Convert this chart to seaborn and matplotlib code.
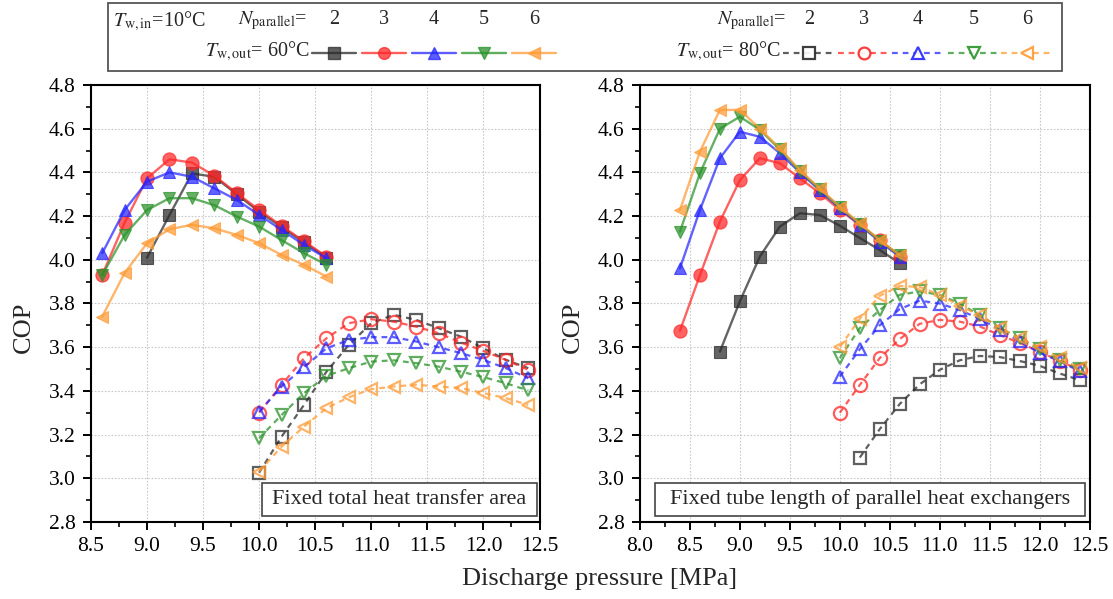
import numpy as np
import pandas as pd
import matplotlib
matplotlib.use("Agg")
import matplotlib.pyplot as plt
import seaborn as sns
from matplotlib.ticker import MultipleLocator, FormatStrFormatter
from matplotlib.patches import Rectangle
from matplotlib.lines import Line2D

# ---------------- data ----------------
N_PARALLEL = [2, 3, 4, 5, 6]

# Left panel: fixed total heat transfer area
left60_x = {
    2: [9.0, 9.2, 9.4, 9.6, 9.8, 10.0, 10.2, 10.4, 10.6],
    3: [8.6, 8.8, 9.0, 9.2, 9.4, 9.6, 9.8, 10.0, 10.2, 10.4, 10.6],
    4: [8.6, 8.8, 9.0, 9.2, 9.4, 9.6, 9.8, 10.0, 10.2, 10.4, 10.6],
    5: [8.6, 8.8, 9.0, 9.2, 9.4, 9.6, 9.8, 10.0, 10.2, 10.4, 10.6],
    6: [8.6, 8.8, 9.0, 9.2, 9.4, 9.6, 9.8, 10.0, 10.2, 10.4, 10.6],
}
left60_y = {
    2: [4.01, 4.205, 4.395, 4.38, 4.30, 4.22, 4.15, 4.08, 4.01],
    3: [3.93, 4.17, 4.373, 4.46, 4.445, 4.385, 4.305, 4.228, 4.155, 4.085, 4.015],
    4: [4.03, 4.228, 4.358, 4.40, 4.38, 4.327, 4.274, 4.205, 4.137, 4.068, 4.007],
    5: [3.93, 4.114, 4.228, 4.282, 4.282, 4.25, 4.198, 4.152, 4.09, 4.03, 3.977],
    6: [3.74, 3.94, 4.076, 4.14, 4.16, 4.144, 4.114, 4.076, 4.022, 3.977, 3.923],
}
left80_x = [10.0, 10.2, 10.4, 10.6, 10.8, 11.0, 11.2, 11.4, 11.6, 11.8, 12.0, 12.2, 12.4]
left80_y = {
    2: [3.026, 3.191, 3.336, 3.488, 3.611, 3.71, 3.748, 3.725, 3.687, 3.648, 3.595, 3.542, 3.504],
    3: [3.30, 3.428, 3.55, 3.641, 3.71, 3.728, 3.717, 3.694, 3.664, 3.621, 3.583, 3.542, 3.496],
    4: [3.305, 3.42, 3.509, 3.595, 3.633, 3.646, 3.646, 3.626, 3.60, 3.573, 3.542, 3.504, 3.458],
    5: [3.184, 3.29, 3.39, 3.469, 3.504, 3.534, 3.54, 3.527, 3.511, 3.488, 3.463, 3.435, 3.402],
    6: [3.031, 3.145, 3.237, 3.321, 3.371, 3.408, 3.42, 3.428, 3.42, 3.413, 3.39, 3.367, 3.336],
}

# Right panel: fixed tube length of parallel heat exchangers
right60_x = {
    2: [8.8, 9.0, 9.2, 9.4, 9.6, 9.8, 10.0, 10.2, 10.4, 10.6],
    3: [8.4, 8.6, 8.8, 9.0, 9.2, 9.4, 9.6, 9.8, 10.0, 10.2, 10.4, 10.6],
    4: [8.4, 8.6, 8.8, 9.0, 9.2, 9.4, 9.6, 9.8, 10.0, 10.2, 10.4, 10.6],
    5: [8.4, 8.6, 8.8, 9.0, 9.2, 9.4, 9.6, 9.8, 10.0, 10.2, 10.4, 10.6],
    6: [8.4, 8.6, 8.8, 9.0, 9.2, 9.4, 9.6, 9.8, 10.0, 10.2, 10.4, 10.6],
}
right60_y = {
    2: [3.58, 3.81, 4.015, 4.152, 4.213, 4.205, 4.156, 4.10, 4.045, 3.984],
    3: [3.675, 3.93, 4.175, 4.365, 4.465, 4.442, 4.373, 4.305, 4.228, 4.16, 4.09, 4.015],
    4: [3.961, 4.228, 4.465, 4.586, 4.563, 4.488, 4.40, 4.318, 4.236, 4.16, 4.083, 4.015],
    5: [4.129, 4.396, 4.60, 4.655, 4.595, 4.505, 4.405, 4.322, 4.24, 4.164, 4.087, 4.02],
    6: [4.228, 4.495, 4.686, 4.686, 4.60, 4.51, 4.41, 4.327, 4.243, 4.167, 4.09, 4.022],
}
right80_x = {
    2: [10.2, 10.4, 10.6, 10.8, 11.0, 11.2, 11.4, 11.6, 11.8, 12.0, 12.2, 12.4],
    3: [10.0, 10.2, 10.4, 10.6, 10.8, 11.0, 11.2, 11.4, 11.6, 11.8, 12.0, 12.2, 12.4],
    4: [10.0, 10.2, 10.4, 10.6, 10.8, 11.0, 11.2, 11.4, 11.6, 11.8, 12.0, 12.2, 12.4],
    5: [10.0, 10.2, 10.4, 10.6, 10.8, 11.0, 11.2, 11.4, 11.6, 11.8, 12.0, 12.2, 12.4],
    6: [10.0, 10.2, 10.4, 10.6, 10.8, 11.0, 11.2, 11.4, 11.6, 11.8, 12.0, 12.2, 12.4],
}
right80_y = {
    2: [3.095, 3.225, 3.34, 3.43, 3.496, 3.54, 3.56, 3.555, 3.537, 3.515, 3.48, 3.45],
    3: [3.30, 3.427, 3.55, 3.637, 3.707, 3.725, 3.717, 3.695, 3.656, 3.62, 3.58, 3.537, 3.496],
    4: [3.465, 3.59, 3.70, 3.774, 3.813, 3.80, 3.77, 3.73, 3.68, 3.627, 3.574, 3.537, 3.49],
    5: [3.55, 3.687, 3.77, 3.84, 3.855, 3.84, 3.80, 3.747, 3.69, 3.64, 3.59, 3.54, 3.50],
    6: [3.60, 3.73, 3.835, 3.88, 3.876, 3.84, 3.79, 3.747, 3.69, 3.64, 3.60, 3.55, 3.505],
}

COLORS = {2: "#2a2a2a", 3: "#ff2626", 4: "#2626ff", 5: "#2a922a", 6: "#ff9a33"}
MARKERS = {2: "s", 3: "o", 4: "^", 5: "v", 6: "<"}

panel_titles = ["Fixed total heat transfer area",
                "Fixed tube length of parallel heat exchangers"]

# ---------------- style ----------------
sns.set_theme(style="ticks")
plt.rcParams["font.family"] = ["Liberation Serif", "DejaVu Serif"]
plt.rcParams["mathtext.fontset"] = "stix"

W, H = 1113, 599
fig = plt.figure(figsize=(W / 100, H / 100), dpi=100)

def px_axes(x0, y0, x1, y1):
    return fig.add_axes([x0 / W, 1 - y1 / H, (x1 - x0) / W, (y1 - y0) / H])

axL = px_axes(91, 85, 539.5, 522)
axR = px_axes(640, 85, 1089.5, 522)


def draw_filled(ax, x, y, n):
    c = COLORS[n]
    sns.lineplot(x=x, y=y, ax=ax, color=c, lw=1.7, alpha=0.72,
                 marker=MARKERS[n], ms=8.5 if n != 3 else 9.5,
                 markerfacecolor=c, markeredgecolor=c, markeredgewidth=0.8,
                 estimator=None, sort=False, zorder=4)


def draw_open(ax, x, y, n):
    c = COLORS[n]
    sns.lineplot(x=x, y=y, ax=ax, color=c, lw=1.6, alpha=0.75,
                 linestyle=(0, (2.6, 2.2)),
                 marker=MARKERS[n], ms=9 if n != 3 else 9.5,
                 markerfacecolor="none", markeredgecolor=c, markeredgewidth=1.6,
                 estimator=None, sort=False, zorder=3)


for n in N_PARALLEL:
    draw_open(axL, left80_x, left80_y[n], n)
for n in N_PARALLEL:
    draw_filled(axL, left60_x[n], left60_y[n], n)
for n in N_PARALLEL:
    draw_open(axR, right80_x[n], right80_y[n], n)
for n in N_PARALLEL:
    draw_filled(axR, right60_x[n], right60_y[n], n)

for ax, (xmin, xmax) in [(axL, (8.5, 12.5)), (axR, (8.0, 12.5))]:
    ax.set_xlim(xmin, xmax)
    ax.set_ylim(2.8, 4.8)
    ax.xaxis.set_major_locator(MultipleLocator(0.5))
    ax.xaxis.set_minor_locator(MultipleLocator(0.25))
    ax.yaxis.set_major_locator(MultipleLocator(0.2))
    ax.yaxis.set_minor_locator(MultipleLocator(0.1))
    ax.xaxis.set_major_formatter(FormatStrFormatter("%.1f"))
    ax.yaxis.set_major_formatter(FormatStrFormatter("%.1f"))
    ax.grid(True, which="major", color="#c8c8c8", linestyle=(0, (1.5, 1.5)), lw=0.8)
    ax.set_axisbelow(True)
    for s in ax.spines.values():
        s.set_visible(True)
        s.set_linewidth(1.5)
        s.set_color("black")
    ax.tick_params(which="major", direction="out", length=6, width=1.4,
                   labelsize=15.5, pad=5, colors="black")
    ax.tick_params(which="minor", direction="out", length=3.5, width=1.2,
                   colors="black")
    ax.tick_params(top=False, right=False, which="both")
    ax.set_xlabel("")
    ax.set_ylabel("COP", fontsize=19, labelpad=6)
    ax.yaxis.set_label_coords(-0.125, 0.445)

# annotation boxes
for ax, title, (bx0, bx1) in [(axL, panel_titles[0], (0.382, 0.994)),
                              (axR, panel_titles[1], (0.034, 0.990))]:
    by0, by1 = 0.013, 0.090
    ax.add_patch(Rectangle((bx0, by0), bx1 - bx0, by1 - by0, transform=ax.transAxes,
                           facecolor="white", edgecolor="#444444", lw=1.2, zorder=10))
    ax.text((bx0 + bx1) / 2, (by0 + by1) / 2, title, transform=ax.transAxes,
            ha="center", va="center", fontsize=16, zorder=11)

fig.text(600 / W, 1 - 579 / H, "Discharge pressure [MPa]", ha="center", va="center",
         fontsize=19)

# ---------------- header legend ----------------
lg = fig.add_axes([0, 0, 1, 1], facecolor="none")
lg.set_xlim(0, W)
lg.set_ylim(H, 0)
lg.axis("off")
lg.add_patch(Rectangle((108, 3), 954, 68, facecolor="white", edgecolor="#555555", lw=1.3))

fs = 14.5
lg.text(113, 21, r"$T_{\rm w,in}$=10°C", ha="left", va="center", fontsize=fs)
lg.text(238, 21, r"$N_{\rm parallel}$=", ha="left", va="center", fontsize=fs)
lg.text(717, 21, r"$N_{\rm parallel}$=", ha="left", va="center", fontsize=fs)
lg.text(310, 51, r"$T_{\rm w,out}$= 60°C", ha="right", va="center", fontsize=fs)
lg.text(781, 51, r"$T_{\rm w,out}$= 80°C", ha="right", va="center", fontsize=fs)

cx60 = [334, 384, 434, 484, 534]
cx80 = [809, 864, 918, 974, 1027]
for n, xa, xb in zip(N_PARALLEL, cx60, cx80):
    c = COLORS[n]
    lg.text(xa, 19, str(n), ha="center", va="center", fontsize=fs)
    lg.text(xb, 19, str(n), ha="center", va="center", fontsize=fs)
    lg.add_line(Line2D([xa - 22, xa + 22], [53, 53], color=c, lw=1.7, alpha=0.75))
    lg.add_line(Line2D([xa], [53], color=c, marker=MARKERS[n], ms=8.5,
                       mfc=c, mec=c, alpha=0.75, lw=0))
    lg.add_line(Line2D([xb - 26, xb + 26], [53, 53], color=c, lw=1.6, alpha=0.75,
                       linestyle=(0, (2.6, 2.2))))
    lg.add_line(Line2D([xb], [53], color=c, marker=MARKERS[n], ms=8.5,
                       mfc="white", mec=c, mew=1.6, alpha=0.9, lw=0))

fig.savefig("out.png", dpi=100)
